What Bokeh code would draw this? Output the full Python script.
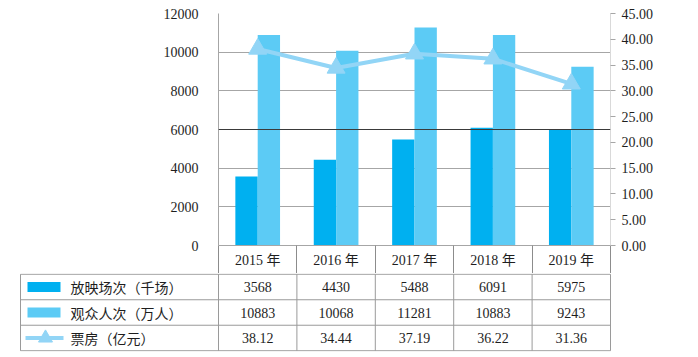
from bokeh.plotting import figure
from bokeh.models import (Range1d, LinearAxis, FixedTicker, ColumnDataSource,
                          NumeralTickFormatter, Span)
from bokeh.transform import dodge
from bokeh.embed import file_html
from bokeh.resources import INLINE
from bokeh.core.properties import value

# ---------------- data ----------------
years = ["2015 年", "2016 年", "2017 年", "2018 年", "2019 年"]
screenings = [3568, 4430, 5488, 6091, 5975]        # 放映场次（千场）
audience = [10883, 10068, 11281, 10883, 9243]      # 观众人次（万人）
box_office = [38.12, 34.44, 37.19, 36.22, 31.36]   # 票房（亿元）
series_names = ["放映场次（千场）", "观众人次（万人）", "票房（亿元）"]
left_ticks = [0, 2000, 4000, 6000, 8000, 10000, 12000]
right_ticks = [0, 5, 10, 15, 20, 25, 30, 35, 40, 45]

# ---------------- style ----------------
DARK = "#00B0F0"
LIGHT = "#5CCBF5"
LINEC = "#92D5F6"
SERIF = "'Liberation Serif', 'Noto Sans CJK SC'"
CJK = "Noto Sans CJK SC"
TXT = "#1E1E1E"
GRID = "#A6A6A6"
FS = "14px"

xs = list(range(len(years)))
src = ColumnDataSource(dict(x=xs, s=screenings, a=audience, b=box_office))

# ---------------- chart ----------------
p = figure(width=698, height=273, x_range=Range1d(-0.5, len(years) - 0.5),
           y_range=Range1d(left_ticks[0], left_ticks[-1]),
           min_border_left=218, min_border_right=88, min_border_top=13,
           min_border_bottom=28, output_backend="svg", toolbar_location=None)
p.outline_line_color = None
p.background_fill_color = "white"
p.border_fill_color = "white"
p.xgrid.visible = False
p.ygrid.ticker = FixedTicker(ticks=left_ticks)
p.ygrid.grid_line_color = GRID
p.add_layout(Span(location=left_ticks[3], dimension="width",
                  line_color="#3A3A3A", line_width=1))

# left axis
ya = p.yaxis[0]
ya.ticker = FixedTicker(ticks=left_ticks)
ya.major_tick_out = 0
ya.major_tick_in = 0
ya.minor_tick_out = 0
ya.minor_tick_in = 0
ya.axis_line_color = GRID
ya.major_label_standoff = 20
ya.major_label_text_font = SERIF
ya.major_label_text_font_size = FS
ya.major_label_text_color = TXT

# right axis
p.extra_y_ranges = {"bo": Range1d(right_ticks[0], right_ticks[-1])}
ra = LinearAxis(y_range_name="bo", ticker=FixedTicker(ticks=right_ticks),
                formatter=NumeralTickFormatter(format="0.00"))
ra.major_tick_out = 5
ra.major_tick_in = 0
ra.major_tick_line_color = GRID
ra.axis_line_color = "#D9D9D9"
ra.major_label_standoff = 6
ra.major_label_text_font = SERIF
ra.major_label_text_font_size = FS
ra.major_label_text_color = TXT
p.add_layout(ra, "right")

# x axis = table header row (minor ticks act as the column separators)
xa = p.xaxis[0]
xa.ticker = FixedTicker(ticks=xs, minor_ticks=[i - 0.5 for i in range(len(years) + 1)])
xa.major_label_overrides = {i: y for i, y in enumerate(years)}
xa.major_tick_out = 0
xa.major_tick_in = 0
xa.minor_tick_out = 28
xa.minor_tick_in = 0
xa.minor_tick_line_color = "#8C8C8C"
xa.axis_line_color = GRID
xa.major_label_standoff = -21
xa.major_label_text_font = SERIF
xa.major_label_text_font_size = FS
xa.major_label_text_color = TXT

BW = 0.285
p.vbar(x=dodge("x", -BW / 2, range=p.x_range), top="s", width=BW, source=src,
       fill_color=DARK, line_color=None)
p.vbar(x=dodge("x", BW / 2, range=p.x_range), top="a", width=BW, source=src,
       fill_color=LIGHT, line_color=None)
p.line(x="x", y="b", source=src, y_range_name="bo", line_color=LINEC, line_width=4)
p.scatter(x="x", y="b", source=src, y_range_name="bo", marker="triangle", size=18,
          fill_color=LINEC, line_color=LINEC)

# ---------------- table ----------------
u = 392 / len(years)               # pixels per category
frame_l, frame_r = 16, 613
x0 = -0.5 - (218 - frame_l) / u
x1 = len(years) - 0.5 + (frame_r - 610) / u
table_left = -0.5 - (218 - 20) / u
nrows = len(series_names)

t = figure(width=698, height=84, x_range=Range1d(x0, x1),
           y_range=Range1d(-0.03, nrows + 0.03),
           min_border_left=frame_l, min_border_right=698 - frame_r,
           min_border_top=0, min_border_bottom=6,
           output_backend="svg", toolbar_location=None)
t.outline_line_color = None
t.axis.visible = False
t.grid.visible = False

hl = list(range(nrows + 1))
t.segment(x0=[table_left] * len(hl), y0=hl, x1=[len(years) - 0.5] * len(hl), y1=hl,
          line_color="#9A9A9A", line_width=1)
vl = [table_left] + [i - 0.5 for i in range(len(years) + 1)]
t.segment(x0=vl, y0=[0] * len(vl), x1=vl, y1=[nrows] * len(vl),
          line_color="#9A9A9A", line_width=1)

rows = [[str(v) for v in screenings], [str(v) for v in audience],
        [f"{v:.2f}" for v in box_office]]
for r, vals in enumerate(rows):
    yc = nrows - r - 0.5
    t.text(x=xs, y=[yc] * len(xs), text=vals, text_align="center",
           text_baseline="middle", text_font=value(SERIF), text_font_size=FS,
           text_color=TXT)
    t.text(x=[table_left + 50 / u], y=[yc], text=[series_names[r]], text_align="left",
           text_baseline="middle", text_font=value(CJK), text_font_size=FS,
           text_color=TXT)

sw_x = table_left + (43.5 - 20) / u
t.rect(x=[sw_x], y=[nrows - 0.5], width=33, height=10, width_units="screen",
       height_units="screen", fill_color=DARK, line_color=None)
t.rect(x=[sw_x], y=[nrows - 1.5], width=33, height=10, width_units="screen",
       height_units="screen", fill_color=LIGHT, line_color=None)
t.segment(x0=[table_left + 5 / u], y0=[0.5], x1=[table_left + 43 / u], y1=[0.5],
          line_color=LINEC, line_width=4)
t.scatter(x=[table_left + 25 / u], y=[0.5], marker="triangle", size=14,
          fill_color=LINEC, line_color=LINEC)

open("out.html", "w").write(file_html([p, t], INLINE))
